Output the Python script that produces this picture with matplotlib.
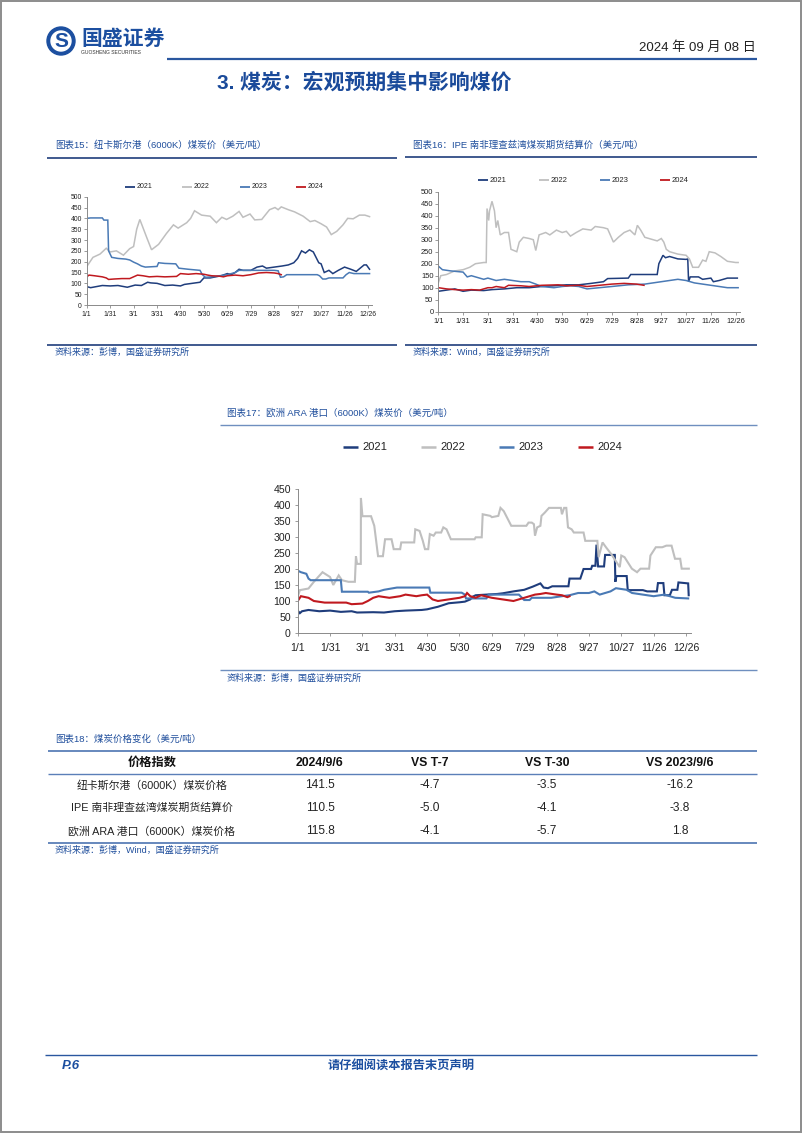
import numpy as np
import matplotlib
matplotlib.use("Agg")
import matplotlib.pyplot as plt
from matplotlib.patches import Circle, Rectangle

plt.rcParams['font.family'] = ['Liberation Sans', 'Noto Sans CJK SC', 'DejaVu Sans']

W, H = 802, 1133
BLUE = '#1f4e9c'
NAVY = '#1f3d7c'
C21, C22, C23, C24 = '#1f3d7c', '#bfbfbf', '#4a7ab5', '#c0191f'

# x axis: day of year, ticks every 30 days
xtick_days = [0, 30, 60, 90, 120, 150, 180, 210, 240, 270, 300, 330, 360]
xtick_labels = ['1/1', '1/31', '3/1', '3/31', '4/30', '5/30', '6/29', '7/29',
                '8/28', '9/27', '10/27', '11/26', '12/26']
years = ['2021', '2022', '2023', '2024']

# ---- 图表15 纽卡斯尔港 (day, USD/t) ----
nc_2021 = [(0, 85), (5, 80), (20, 90), (30, 88), (40, 90), (52, 82), (62, 92), (70, 90), (78, 105),
           (82, 102), (90, 100), (100, 90), (110, 92), (120, 88), (125, 95), (135, 100), (145, 105),
           (150, 125), (158, 125), (165, 130), (172, 135), (180, 145), (185, 140), (190, 150),
           (195, 165), (200, 160), (210, 160), (218, 175), (225, 180), (230, 170), (240, 175),
           (250, 180), (258, 185), (265, 195), (270, 215), (275, 250), (280, 240), (285, 255),
           (290, 245), (297, 195), (300, 190), (304, 150), (310, 160), (315, 145), (322, 160),
           (330, 175), (338, 165), (345, 155), (350, 170), (355, 185), (358, 185), (362, 165)]
nc_2022 = [(0, 177), (8, 220), (17, 235), (25, 262), (30, 245), (38, 250), (47, 230), (55, 260),
           (60, 270), (64, 350), (68, 395), (77, 310), (83, 255), (92, 280), (102, 330), (111, 370),
           (117, 355), (128, 380), (133, 400), (138, 435), (147, 415), (158, 410), (166, 380),
           (173, 405), (179, 395), (187, 410), (195, 432), (200, 405), (209, 420), (215, 393),
           (224, 395), (234, 440), (241, 450), (245, 440), (249, 453), (258, 440), (266, 430),
           (277, 410), (286, 385), (292, 390), (300, 375), (307, 360), (313, 325), (320, 340),
           (328, 370), (334, 400), (341, 398), (349, 415), (356, 415), (362, 408)]
nc_2023 = [(0, 400), (5, 402), (20, 402), (22, 392), (27, 392), (28, 250), (32, 220), (40, 215),
           (50, 212), (55, 208), (60, 198), (65, 190), (70, 180), (75, 175), (90, 178), (92, 195),
           (100, 192), (114, 190), (118, 170), (130, 165), (145, 160), (148, 140), (152, 128),
           (160, 130), (170, 135), (180, 140), (190, 150), (195, 160), (240, 160), (245, 158),
           (248, 128), (252, 130), (256, 140), (295, 140), (298, 135), (302, 120), (306, 120),
           (310, 125), (328, 125), (332, 140), (336, 150), (342, 145), (362, 145)]
nc_2024 = [(0, 130), (3, 138), (10, 135), (20, 130), (25, 125), (28, 118), (35, 120), (45, 122),
           (55, 122), (60, 130), (65, 138), (72, 135), (80, 130), (90, 132), (100, 130), (115, 132),
           (120, 145), (130, 142), (140, 145), (150, 142), (155, 138), (160, 135), (170, 133),
           (175, 130), (180, 135), (190, 138), (200, 135), (210, 140), (220, 148), (230, 150),
           (240, 148), (245, 145), (249, 140)]

# ---- 图表16 IPE 南非理查兹湾 ----
ipe_2021 = [(0, 85), (10, 90), (20, 95), (30, 85), (40, 90), (55, 88), (65, 92), (80, 95), (95, 100),
            (110, 100), (125, 105), (140, 108), (155, 112), (170, 112), (185, 118), (200, 125),
            (205, 138), (230, 140), (233, 155), (265, 155), (267, 200), (272, 235), (275, 225),
            (280, 230), (290, 220), (300, 218), (302, 220), (303, 125), (305, 145), (315, 145),
            (320, 135), (330, 140), (333, 125), (340, 130), (350, 140), (362, 140)]
ipe_2022 = [(0, 120), (3, 150), (10, 155), (20, 170), (30, 175), (38, 185), (45, 200), (55, 205),
            (58, 205), (59, 430), (61, 380), (62, 420), (65, 460), (68, 420), (70, 350), (72, 380),
            (75, 320), (80, 330), (85, 330), (88, 260), (95, 250), (98, 290), (103, 310), (110, 305),
            (115, 300), (118, 255), (122, 320), (130, 330), (135, 320), (143, 340), (150, 330),
            (155, 335), (160, 315), (167, 330), (175, 345), (185, 340), (190, 355), (200, 350),
            (205, 345), (212, 290), (218, 310), (225, 330), (232, 340), (238, 320), (241, 360),
            (245, 340), (250, 310), (260, 300), (265, 295), (270, 305), (273, 290), (276, 260),
            (280, 250), (290, 240), (300, 235), (304, 220), (308, 185), (315, 185), (320, 215),
            (324, 210), (328, 250), (335, 245), (342, 230), (350, 210), (360, 205), (363, 205)]
ipe_2023 = [(0, 190), (5, 175), (15, 170), (30, 165), (35, 145), (40, 150), (50, 140), (55, 135),
            (60, 140), (70, 130), (80, 135), (90, 130), (100, 125), (110, 125), (118, 115),
            (125, 105), (140, 100), (150, 105), (160, 108), (170, 105), (180, 95), (195, 100),
            (210, 105), (230, 112), (250, 115), (260, 120), (270, 125), (280, 130), (290, 135),
            (300, 130), (310, 120), (320, 115), (330, 110), (340, 105), (350, 100), (363, 100)]
ipe_2024 = [(0, 100), (10, 95), (20, 92), (30, 90), (40, 92), (50, 90), (60, 100), (65, 100),
            (70, 105), (80, 100), (85, 110), (100, 108), (110, 105), (125, 110), (145, 112),
            (155, 108), (170, 110), (180, 105), (195, 110), (210, 115), (225, 118), (240, 115),
            (249, 110)]

# ---- 图表17 欧洲 ARA 港口 ----
ara_2021 = [(0, 70), (2, 62), (4, 68), (10, 72), (20, 68), (30, 70), (40, 66), (50, 68), (55, 64),
            (70, 65), (80, 64), (90, 68), (100, 70), (115, 72), (120, 74), (125, 78), (130, 82),
            (140, 93), (150, 96), (155, 98), (160, 105), (162, 113), (165, 118), (175, 120),
            (185, 122), (190, 124), (200, 130), (210, 135), (218, 145), (225, 155), (228, 142),
            (232, 140), (236, 146), (251, 146), (252, 170), (262, 170), (265, 200), (272, 200),
            (273, 210), (276, 210), (277, 276), (278.5, 208), (284, 208), (285, 244), (294, 244),
            (294.5, 160), (295.5, 178), (305, 178), (306, 134), (320, 134), (324, 130), (333, 130),
            (334, 156), (339, 156), (340, 118), (345, 118), (347, 135), (352, 135), (353, 158),
            (362, 155), (362.5, 118)]
ara_2022 = [(0, 113), (2, 134), (10, 139), (15, 160), (23, 190), (30, 175), (33, 150), (38, 180),
            (41, 165), (47, 160), (53, 160), (54, 240), (55, 216), (58.5, 216), (58.6, 422),
            (60, 365), (68, 365), (71, 335), (74.5, 240), (79, 240), (81, 293), (87, 293),
            (89, 262), (95, 262), (96, 283), (108, 283), (109, 324), (113, 319), (116, 288),
            (118, 262), (121, 262), (122.5, 309), (126, 304), (128, 314), (133, 314), (135, 330),
            (138, 324), (142, 293), (164, 293), (165, 299), (170.6, 299), (171.5, 371),
            (178.6, 366), (180, 362), (186, 366), (188, 391), (191, 381), (198, 335), (212, 335),
            (214, 345), (217, 345), (219, 340), (220, 304), (222, 330), (225, 335), (226, 366),
            (229, 376), (233, 391), (244, 391), (245, 371), (247, 391), (249, 391), (250.6, 330),
            (254, 324), (256, 314), (265, 314), (266.6, 288), (277.8, 288), (279, 237),
            (282.6, 283), (285.8, 268), (290.6, 247), (298.6, 206), (300, 242), (303, 237),
            (309.8, 201), (314.6, 190), (317.8, 201), (325.8, 201), (327, 242), (332, 268),
            (338, 268), (341.8, 273), (346.6, 273), (349.8, 232), (354.6, 232), (356, 201),
            (362.6, 201)]
ara_2023 = [(0, 195), (3, 190), (8, 185), (10, 170), (12, 165), (40, 165), (41, 129), (65, 129),
            (66, 126), (75, 130), (80, 135), (92, 142), (122, 142), (123, 126), (152, 126),
            (155, 120), (156, 108), (175, 108), (177, 120), (205, 120), (210, 103), (215, 103),
            (217, 110), (235, 110), (245, 115), (252, 118), (260, 125), (270, 125), (275, 130),
            (280, 120), (290, 130), (295, 140), (305, 135), (310, 125), (320, 120), (330, 115),
            (340, 120), (350, 110), (362, 108)]
ara_2024 = [(0, 100), (3, 115), (10, 110), (15, 100), (25, 95), (45, 95), (50, 90), (60, 92),
            (65, 100), (70, 110), (75, 115), (85, 110), (95, 115), (100, 120), (110, 115),
            (115, 118), (120, 120), (125, 105), (130, 100), (140, 105), (150, 110), (155, 115),
            (157, 125), (160, 115), (165, 110), (170, 118), (180, 110), (190, 105), (200, 100),
            (210, 110), (215, 115), (220, 120), (225, 122), (230, 125), (240, 120), (245, 118),
            (250, 112), (252, 115)]

# ---- 图表18 table ----
table_header = ['价格指数', '2024/9/6', 'VS T-7', 'VS T-30', 'VS 2023/9/6']
table_names = ['纽卡斯尔港（6000K）煤炭价格', 'IPE 南非理查兹湾煤炭期货结算价', '欧洲 ARA 港口（6000K）煤炭价格']
price_now = [141.5, 110.5, 115.8]
vs_t7 = [-4.7, -5.0, -4.1]
vs_t30 = [-3.5, -4.1, -5.7]
vs_yoy = [-16.2, -3.8, 1.8]

fig = plt.figure(figsize=(W / 100, H / 100), dpi=100)
bg = fig.add_axes([0, 0, 1, 1])
bg.set_xlim(0, W)
bg.set_ylim(H, 0)
bg.axis('off')


def hline(x0, x1, y, color=NAVY, lw=1.2):
    bg.plot([x0, x1], [y, y], color=color, lw=lw, solid_capstyle='butt')


def txt(x, y, s, size, color=BLUE, ha='left', weight='normal', style='normal'):
    bg.text(x, y, s, fontsize=size, color=color, ha=ha, va='center',
            fontweight=weight, fontstyle=style)


# page border
bg.add_patch(Rectangle((0.8, 0.8), W - 1.6, H - 1.6, fill=False, ec='#8c8c8c', lw=1.4))

# header: logo, date, rule, title
bg.add_patch(Circle((61, 41), 14, color='#1c4fa0'))
bg.add_patch(Circle((61, 41), 10, color='white'))
bg.text(61, 41.5, 'S', fontsize=15, color='#1c4fa0', fontweight='bold', ha='center', va='center')
txt(81, 39, '国盛证券', 15, color='#1c4fa0', weight='bold')
txt(81, 53, 'GUOSHENG SECURITIES', 3.6, color='#333333')
txt(756, 48, '2024 年 09 月 08 日', 9.5, color='#222222', ha='right')
hline(167, 757, 59, color='#2a579f', lw=1.6)
txt(217, 82, '3. 煤炭：宏观预期集中影响煤价', 15, color='#1a4a9a', weight='bold')


def plot_chart(rect, series, ymax, ystep, fs, lw, xpad=1.5, ypad=1.5):
    x0, y0, x1, y1 = rect
    ax = fig.add_axes([x0 / W, 1 - y1 / H, (x1 - x0) / W, (y1 - y0) / H])
    for data, color in zip(series, [C21, C22, C23, C24]):
        d = np.array(data, dtype=float)
        ax.plot(d[:, 0], d[:, 1], color=color, lw=lw, solid_joinstyle='miter')
    ax.set_xlim(0, 365)
    ax.set_ylim(0, ymax)
    ax.set_xticks(xtick_days)
    ax.set_xticklabels(xtick_labels)
    ax.set_yticks(np.arange(0, ymax + 1, ystep))
    for s in ['top', 'right']:
        ax.spines[s].set_visible(False)
    for s in ['left', 'bottom']:
        ax.spines[s].set_color('#8a8a8a')
        ax.spines[s].set_linewidth(0.7)
    ax.tick_params(length=2, width=0.6, color='#8a8a8a', labelsize=fs, labelcolor='#222222')
    ax.tick_params(axis='x', pad=xpad)
    ax.tick_params(axis='y', pad=ypad)
    ax.patch.set_alpha(0)
    return ax


def legend(xs, y, fs, seg, gap, lw):
    for x, lab, color in zip(xs, years, [C21, C22, C23, C24]):
        bg.plot([x - gap - seg, x - gap], [y, y], color=color, lw=lw, solid_capstyle='butt')
        bg.text(x, y, lab, fontsize=fs, color='#222222', va='center', ha='left')


# 图表15
txt(55, 145, '图表15：纽卡斯尔港（6000K）煤炭价（美元/吨）', 6.8)
hline(47, 397, 158)
legend([137, 194, 252, 308], 187, 5, 10, 2, 1.3)
plot_chart((86.7, 196.7, 371.9, 305), [nc_2021, nc_2022, nc_2023, nc_2024], 500, 50, 4.9, 1.1, 2.5)
hline(47, 397, 345)
txt(55, 352, '资料来源：彭博，国盛证券研究所', 6.5)

# 图表16
txt(413, 145, '图表16：IPE 南非理查兹湾煤炭期货结算价（美元/吨）', 6.8)
hline(405, 757, 157)
legend([490, 551, 612, 672], 180, 5.5, 10, 2.5, 1.3)
plot_chart((438.3, 191.7, 739.8, 311.7), [ipe_2021, ipe_2022, ipe_2023, ipe_2024], 500, 50, 5.4, 1.1, 2.5)
hline(405, 757, 345)
txt(413, 352, '资料来源：Wind，国盛证券研究所', 6.5)

# 图表17
txt(227, 413, '图表17：欧洲 ARA 港口（6000K）煤炭价（美元/吨）', 6.8)
hline(220, 757, 425, color='#6f8fbf', lw=1.0)
legend([362, 440, 518, 597], 447, 8.0, 15, 4, 1.8)
plot_chart((297.7, 489, 691.4, 633), [ara_2021, ara_2022, ara_2023, ara_2024], 450, 50, 7.6, 1.5, 5, 3)
hline(220, 757, 670, color='#6f8fbf', lw=1.0)
txt(227, 678, '资料来源：彭博，国盛证券研究所', 6.5)

# 图表18 table
txt(55, 739, '图表18：煤炭价格变化（美元/吨）', 6.8)
hline(48, 757, 751, color='#5b7fb8', lw=1.3)
col_x = [152, 320, 430, 547, 680]
for x, h in zip(col_x, table_header):
    txt(x, 763, h, 8.8, color='#111111', ha='center', weight='bold')
hline(48, 757, 774, color='#5b7fb8', lw=1.0)
row_y = [785.5, 808, 831]
for i, y in enumerate(row_y):
    txt(col_x[0], y, table_names[i], 7.8, color='#222222', ha='center')
    for x, v in zip(col_x[1:], [price_now[i], vs_t7[i], vs_t30[i], vs_yoy[i]]):
        txt(x, y, f'{v:.1f}', 8.6, color='#222222', ha='center')
hline(48, 757, 843, color='#5b7fb8', lw=1.3)
txt(55, 850, '资料来源：彭博，Wind，国盛证券研究所', 6.5)

# footer
hline(45, 757, 1055, color='#2a579f', lw=1.0)
txt(62, 1066, 'P.6', 9.5, color='#1c4fa0', weight='bold', style='italic')
txt(401, 1066, '请仔细阅读本报告末页声明', 8.8, color='#1c4fa0', ha='center', weight='bold')

fig.savefig('out.png', dpi=100)
